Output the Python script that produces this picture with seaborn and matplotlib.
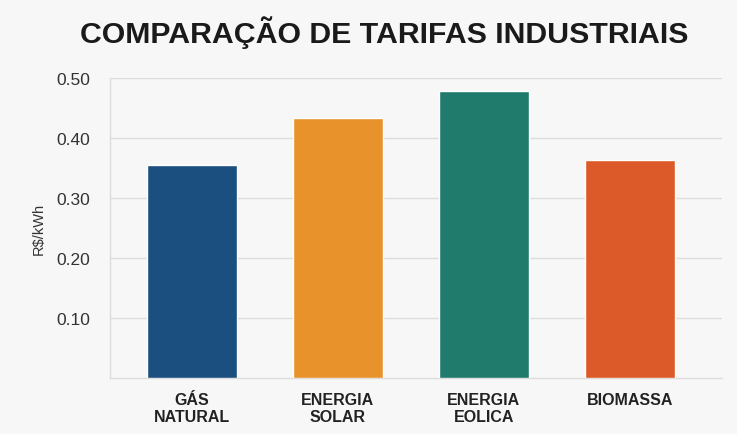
import matplotlib
matplotlib.use("Agg")
import matplotlib.pyplot as plt
import pandas as pd
import seaborn as sns

## Dados do gráfico
fontes  = ["GÁS\nNATURAL", "ENERGIA\nSOLAR", "ENERGIA\nEOLICA", "BIOMASSA"]
tarifas = [0.355, 0.433, 0.478, 0.363]
cores   = ["#1b4f7f", "#e8922b", "#207b6c", "#dc5a29"]
yticks  = [0.10, 0.20, 0.30, 0.40, 0.50]

df = pd.DataFrame({"fonte": fontes, "tarifa": tarifas})

sns.set_theme(style = "white")
plt.rcParams["font.family"] = ["Liberation Sans", "DejaVu Sans"]

bg = "#f7f7f7"
fig = plt.figure(figsize = (7.37, 4.35), dpi = 100, facecolor = bg)
ax = fig.add_axes([110 / 737, 1 - 379 / 435, 612 / 737, 300 / 435])
ax.set_facecolor(bg)

sns.barplot(data = df, x = "fonte", y = "tarifa", hue = "fonte",
            palette = cores, saturation = 1, width = 0.62, legend = False,
            ax = ax, zorder = 3)

ax.set_xlim(-0.56, 3.63)
ax.set_ylim(0, 0.5)
ax.set_yticks(yticks)
ax.set_yticklabels(["%.2f" % v for v in yticks], fontsize = 12.5, color = "#333333")
ax.yaxis.grid(True, color = "#dddddd", linewidth = 1, zorder = 0)
ax.tick_params(axis = "y", length = 0, pad = 14)
ax.tick_params(axis = "x", length = 0, pad = 10)
for lab in ax.get_xticklabels():
    lab.set_fontweight("bold")
    lab.set_fontsize(11.5)
    lab.set_color("#222222")
    lab.set_linespacing(1.2)

ax.set_xlabel("")
ax.set_ylabel("R$/kWh", fontsize = 10.5, color = "#333333", labelpad = 8)

for s in ["top", "right"]:
    ax.spines[s].set_visible(False)
for s in ["left", "bottom"]:
    ax.spines[s].set_color("#dddddd")
    ax.spines[s].set_linewidth(1)

fig.text(384 / 737, 1 - 33 / 435, "COMPARAÇÃO DE TARIFAS INDUSTRIAIS",
         ha = "center", va = "center", fontsize = 21.8, fontweight = "bold",
         color = "#1a1a1a")

fig.savefig("out.png", dpi = 100, facecolor = bg)
